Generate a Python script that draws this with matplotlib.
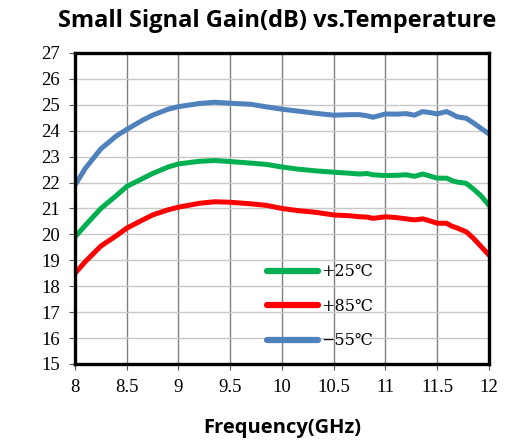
import matplotlib.pyplot as plt

# frequency points (GHz) and gain (dB)
freq = [8.0, 8.1, 8.25, 8.4, 8.5, 8.65, 8.75, 8.9, 9.0, 9.2, 9.35, 9.5, 9.7, 9.85, 10.0,
        10.15, 10.33, 10.5, 10.65, 10.75, 10.82, 10.88, 11.0, 11.1, 11.2, 11.28, 11.36,
        11.43, 11.5, 11.59, 11.64, 11.69, 11.78, 11.85, 11.92, 12.0]

gain_25 = [19.9, 20.35, 21.0, 21.5, 21.85, 22.15, 22.35, 22.6, 22.72, 22.82, 22.85, 22.81,
           22.75, 22.7, 22.6, 22.52, 22.45, 22.4, 22.36, 22.33, 22.35, 22.3, 22.27, 22.28,
           22.3, 22.24, 22.33, 22.25, 22.17, 22.17, 22.08, 22.02, 21.97, 21.75, 21.5, 21.12]

gain_85 = [18.5, 18.95, 19.55, 19.95, 20.24, 20.55, 20.75, 20.95, 21.05, 21.2, 21.26, 21.24,
           21.18, 21.12, 21.0, 20.92, 20.85, 20.75, 20.72, 20.68, 20.67, 20.62, 20.68, 20.65,
           20.6, 20.56, 20.6, 20.52, 20.43, 20.43, 20.32, 20.25, 20.1, 19.85, 19.55, 19.2]

gain_m55 = [21.9, 22.55, 23.3, 23.8, 24.05, 24.4, 24.6, 24.83, 24.93, 25.05, 25.1, 25.06,
            25.02, 24.92, 24.83, 24.76, 24.67, 24.6, 24.62, 24.62, 24.58, 24.52, 24.65, 24.64,
            24.66, 24.6, 24.74, 24.7, 24.65, 24.74, 24.65, 24.54, 24.48, 24.3, 24.1, 23.88]

series = [("+25℃", gain_25, "#00B050"),
          ("+85℃", gain_85, "#FF0000"),
          ("−55℃", gain_m55, "#4F81BD")]

xticks = [8, 8.5, 9, 9.5, 10, 10.5, 11, 11.5, 12]
xticklabels = ["8", "8.5", "9", "9.5", "10", "10.5", "11", "11.5", "12"]
yticks = list(range(15, 28))

fig = plt.figure(figsize=(5.30, 4.46), dpi=100)
ax = fig.add_axes([0.1415, 0.1839, 0.7811, 0.6973])

for label, values, color in series:
    ax.plot(freq, values, color=color, lw=3.6, label=label,
            solid_capstyle="round", solid_joinstyle="round")

ax.set_xlim(8, 12)
ax.set_ylim(15, 27)
ax.set_xticks(xticks)
ax.set_xticklabels(xticklabels)
ax.set_yticks(yticks)

ax.grid(axis="x", color="#7f7f7f", lw=1.0)
ax.grid(axis="y", color="#c8c8c8", lw=1.0)
ax.set_axisbelow(True)

for side in ax.spines.values():
    side.set_linewidth(2.4)
    side.set_color("black")

ax.tick_params(direction="out", length=4, width=0.8, color="#555555", pad=7)
for t in ax.get_xticklabels() + ax.get_yticklabels():
    t.set_family("Liberation Serif")
    t.set_fontsize(13.5)

leg = ax.legend(loc="upper left", bbox_to_anchor=(0.43, 0.37), frameon=False,
                handlelength=3.2, handletextpad=0.2, labelspacing=1.1,
                prop={"family": "DejaVu Serif", "size": 11.5})
for h in leg.get_lines():
    h.set_linewidth(4.5)

fig.text(0.523, 0.953, "Small Signal Gain(dB) vs.Temperature", ha="center", va="center",
         fontsize=17, fontweight="bold", family="Open Sans")
fig.text(0.532, 0.04, "Frequency(GHz)", ha="center", va="center",
         fontsize=14.5, fontweight="bold", family="Open Sans")

fig.savefig("out.png", dpi=100)
